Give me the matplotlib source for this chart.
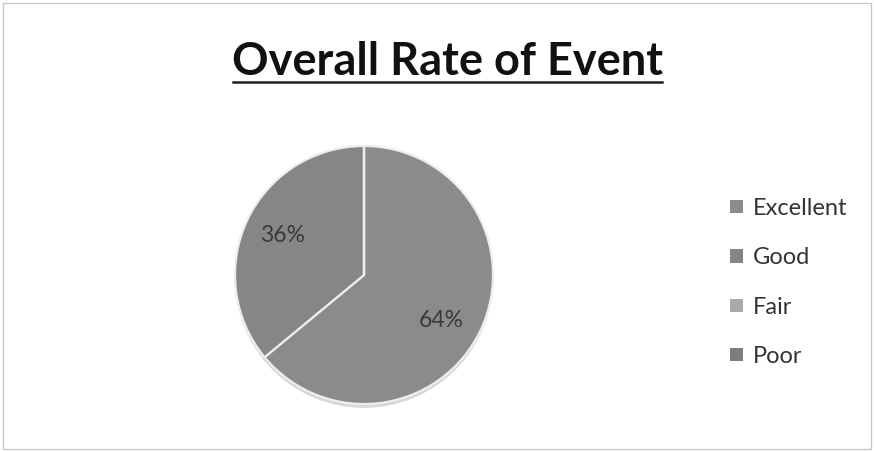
import matplotlib
matplotlib.use("Agg")
import matplotlib.pyplot as plt
from matplotlib.patches import Rectangle, Circle

categories = ["Excellent", "Good", "Fair", "Poor"]
values = [64, 36, 0, 0]
colors = ["#8b8b8b", "#868686", "#a9a9a9", "#7d7d7d"]
title = "Overall Rate of Event"

fig = plt.figure(figsize=(8.74, 4.51), dpi=100)
fig.patch.set_facecolor("white")
fig.add_artist(Rectangle((0.003, 0.004), 0.994, 0.99, transform=fig.transFigure,
                         fill=False, edgecolor="#c8c8c8", linewidth=1))

# pie axes: center ~ (364, 275) px, radius ~129 px
cx, cy, r = 364 / 874, 1 - 275 / 451, 129
w, h = 2 * r * 1.1 / 874, 2 * r * 1.1 / 451
ax = fig.add_axes([cx - w / 2, cy - h / 2, w, h])
ax.set_aspect("equal")
ax.axis("off")

def fmt(p):
    return f"{p:.0f}%" if p > 0 else ""

# subtle shadow rim
ax.add_patch(Circle((0.0, -0.03), 1.0, facecolor="#d8d8d8", edgecolor="none", zorder=0))

wedges, texts, autotexts = ax.pie(values, colors=colors, startangle=90, counterclock=False,
                                  radius=1.0, autopct=fmt, pctdistance=0.62,
                                  wedgeprops=dict(edgecolor="#ededed", linewidth=1.6),
                                  textprops=dict(fontsize=16.5, color="#3a3a3a", family="Lato"))
ax.set_xlim(-1.1, 1.1)
ax.set_ylim(-1.1, 1.1)
autotexts[0].set_position((0.60, -0.35))
autotexts[1].set_position((-0.63, 0.31))

fig.text(447.5 / 874, 1 - 75 / 451, title, ha="center", va="baseline", fontsize=32.5,
         fontweight="bold", family="Lato", color="#111111")
# underline
fig.add_artist(plt.Line2D([233 / 874, 662 / 874], [1 - 82 / 451, 1 - 82 / 451],
                          transform=fig.transFigure, color="#222222", linewidth=1.8))

leg = fig.legend(wedges, categories, loc="upper left", bbox_to_anchor=(730 / 874, 1 - 198 / 451),
                 frameon=False, labelspacing=1.2, handlelength=0.55, borderpad=0,
                 borderaxespad=0, handleheight=0.5, handletextpad=0.42,
                 prop=dict(family="Lato", size=17))
for t in leg.get_texts():
    t.set_color("#333333")
for hdl in leg.legend_handles:
    hdl.set_edgecolor("none")

fig.savefig("out.png", dpi=100)
